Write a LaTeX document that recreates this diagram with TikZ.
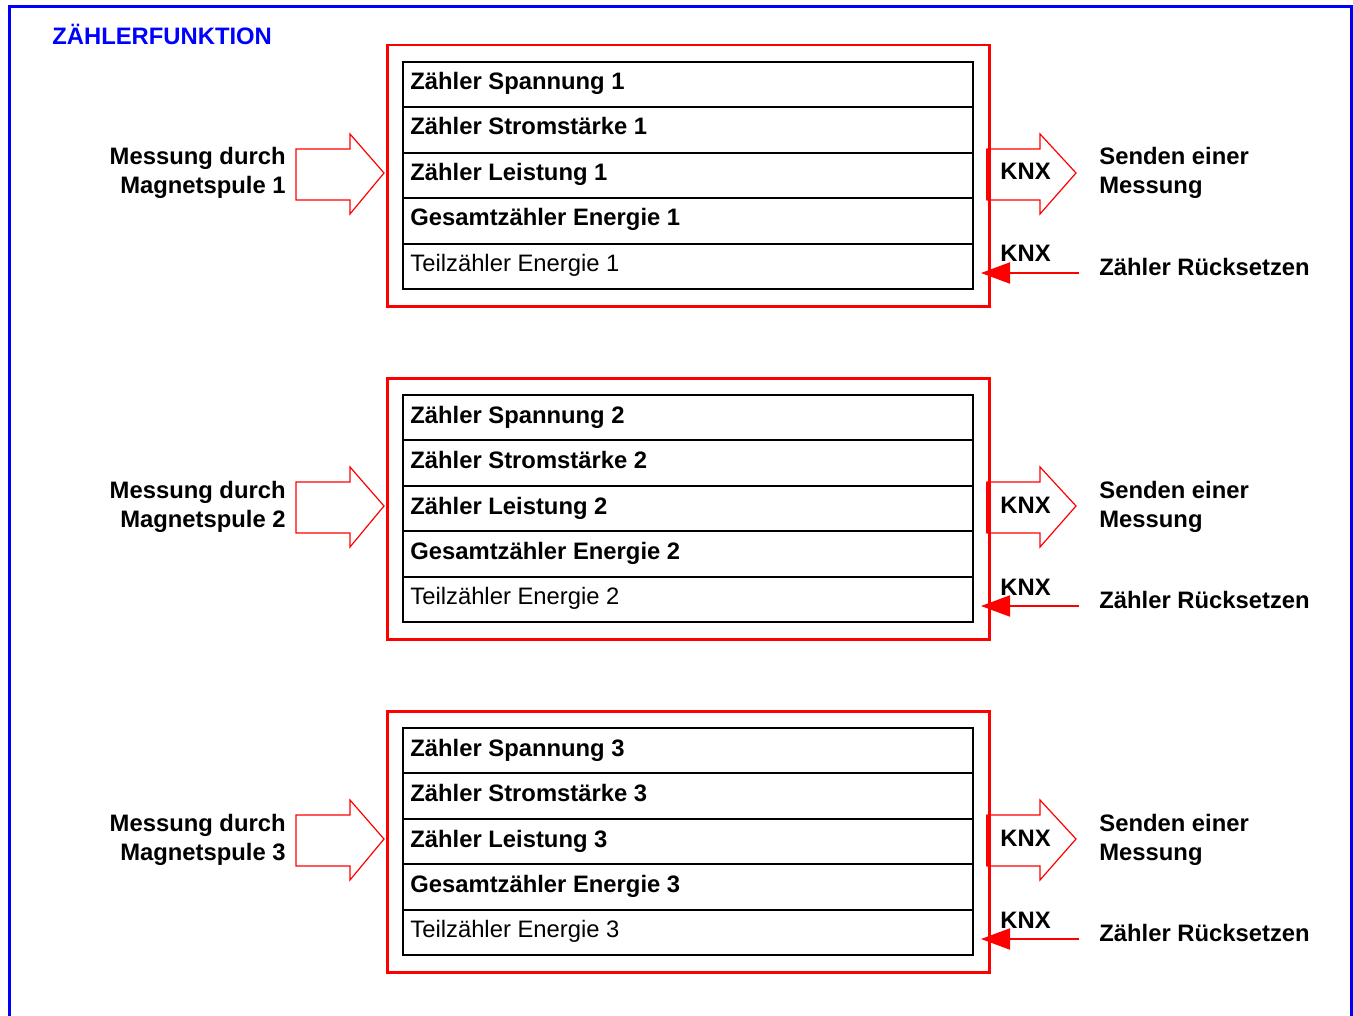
\documentclass[tikz,border=0pt]{standalone}
\usepackage{fontspec}
\setmainfont{Liberation Sans}
\usetikzlibrary{arrows.meta}
\definecolor{fblue}{RGB}{0,0,255}
\definecolor{fred}{RGB}{255,0,0}
\begin{document}
\begin{tikzpicture}[x=0.5pt,y=-0.5pt,
  txt/.style={font=\fontsize{11.9pt}{14pt}\selectfont\bfseries, inner sep=0pt},
  txtr/.style={font=\fontsize{11.9pt}{14pt}\selectfont, inner sep=0pt},
  frame/.style={draw=fblue, line width=1.5pt},
  redbox/.style={draw=fred, line width=1.25pt},
  rowbox/.style={draw=black, line width=0.6pt},
  bigarrow/.style={draw=fred, line width=0.6pt, line join=miter},
  smallarrow/.style={draw=fred, line width=1pt, -{Triangle[length=14.5pt,width=10.5pt]}}]
\useasboundingbox (0,0) rectangle (1353,1016);
% outer blue frame (open at the bottom)
\draw[frame] (9,1020) -- (9,7) -- (1351,7) -- (1351,1020);
\node[txt, text=fblue, anchor=base west] (title) at (52,45) {ZÄHLERFUNKTION};
\foreach \g in {1,2,3}{
  \begin{scope}[shift={(0,{(\g-1)*333})}]
    % red frame
    \node[redbox, minimum width=301pt, minimum height=130.5pt, inner sep=0pt, anchor=north west] (red\g) at (386,44) {};
    % inner box with rows
    \draw[rowbox, line width=0.9pt] (403,62) rectangle (973,289);
    \foreach \yy in {107,153,198,244}{\draw[rowbox] (403,\yy) -- (973,\yy);}
    \node[txt, anchor=base west] (a\g) at (410,90) {Zähler Spannung \g};
    \node[txt, anchor=base west] (b\g) at (410,135) {Zähler Stromstärke \g};
    \node[txt, anchor=base west] (c\g) at (410,181) {Zähler Leistung \g};
    \node[txt, anchor=base west] (d\g) at (410,226) {Gesamtzähler Energie \g};
    \node[txtr, anchor=base west] (e\g) at (410,271) {Teilzähler Energie \g};
    % left input
    \node[txt, anchor=base east] (m\g) at (286,165) {Messung durch};
    \node[txt, anchor=base east] (s\g) at (286,194) {Magnetspule \g};
    \draw[bigarrow] (296,149) -- (350,149) -- (350,134) -- (384,173) -- (350,214) -- (350,200) -- (296,200) -- cycle;
    % right output
    \draw[bigarrow] (987,149) -- (1040,149) -- (1040,134) -- (1076,173) -- (1040,214) -- (1040,200) -- (987,200) -- cycle;
    \draw[fred, line width=1.2pt] (987,149) -- (987,200);
    \node[txt, anchor=base west] (k\g) at (1000,180) {KNX};
    \node[txt, anchor=base west] (se\g) at (1099,165) {Senden einer};
    \node[txt, anchor=base west] (me\g) at (1099,194) {Messung};
    % reset
    \node[txt, anchor=base west] (kr\g) at (1000,262) {KNX};
    \node[txt, anchor=base west] (z\g) at (1099,275) {Zähler Rücksetzen};
    \coordinate (rs\g) at (1079,273);
    \coordinate (re\g) at (981,273);
    \draw[smallarrow] (rs\g) -- (re\g);
  \end{scope}
}
\end{tikzpicture}
\end{document}
